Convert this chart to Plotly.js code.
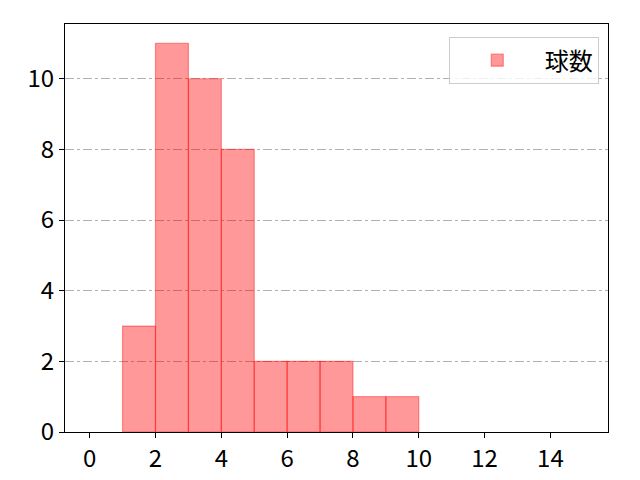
<!DOCTYPE html>
<html>
<head>
<meta charset="utf-8">
<script src="https://cdn.plot.ly/plotly-3.0.1.min.js"></script>
<style>html,body{margin:0;padding:0;background:#fff;}#chart{width:640px;height:480px;}</style>
</head>
<body>
<div id="chart"></div>
<script>
// Histogram bins (left edges, width 1) and counts
var binEdges = [1, 2, 3, 4, 5, 6, 7, 8, 9];
var binWidth = 1;
var counts = [3, 11, 10, 8, 2, 2, 2, 1, 1];
var seriesName = "球数";
var xTicks = [0, 2, 4, 6, 8, 10, 12, 14];
var yTicks = [0, 2, 4, 6, 8, 10];

var centers = binEdges.map(function (e) { return e + binWidth / 2; });

var trace = {
  type: 'bar',
  x: centers,
  y: counts,
  width: binEdges.map(function () { return binWidth; }),
  name: seriesName,
  marker: {
    color: 'rgba(255,0,0,0.4)',
    line: { color: 'rgba(255,0,0,0.4)', width: 1.2 }
  },
  showlegend: true,
  hoverinfo: 'x+y'
};

var font = { family: '"Noto Sans CJK JP", "Noto Sans", sans-serif', size: 24, color: '#000' };

var layout = {
  width: 640,
  height: 480,
  margin: { l: 65, r: 32, t: 24, b: 48, pad: 0 },
  paper_bgcolor: '#fff',
  plot_bgcolor: '#fff',
  font: font,
  bargap: 0,
  xaxis: {
    range: [-0.75, 15.75],
    tickvals: xTicks,
    ticktext: xTicks.map(String),
    ticks: 'outside',
    ticklen: 5,
    tickwidth: 1,
    tickcolor: '#000',
    showline: true,
    linecolor: '#000',
    linewidth: 1,
    mirror: true,
    showgrid: false,
    zeroline: false,
    tickfont: font
  },
  yaxis: {
    range: [0, 11.55],
    tickvals: yTicks,
    ticktext: yTicks.map(String),
    ticks: 'outside',
    ticklen: 5,
    tickwidth: 1,
    tickcolor: '#000',
    showline: true,
    linecolor: '#000',
    linewidth: 1,
    mirror: true,
    showgrid: true,
    gridcolor: '#b0b0b0',
    gridwidth: 1,
    griddash: 'dashdot',
    zeroline: false,
    tickfont: font
  },
  legend: {
    x: 0.983,
    y: 0.968,
    xanchor: 'right',
    yanchor: 'top',
    bgcolor: 'rgba(255,255,255,0.8)',
    bordercolor: '#cccccc',
    borderwidth: 1,
    font: font,
    itemwidth: 85
  }
};

Plotly.newPlot('chart', [trace], layout, { staticPlot: true, displayModeBar: false });
</script>
</body>
</html>
